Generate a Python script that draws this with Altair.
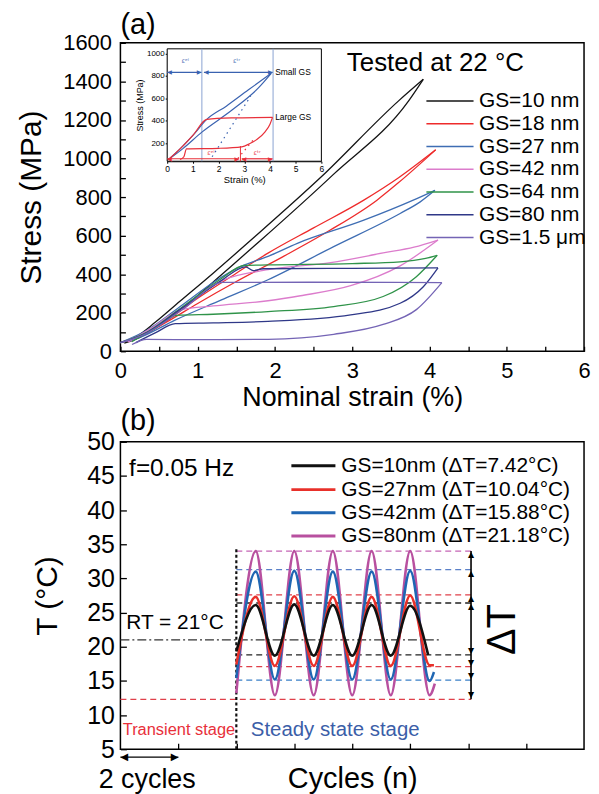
import altair as alt
import pandas as pd

FONT = "Liberation Sans"

# ================= Panel (a): stress-strain loops =================
gs_names = ["GS=10 nm", "GS=18 nm", "GS=27 nm", "GS=42 nm", "GS=64 nm", "GS=80 nm", "GS=1.5 \u03bcm"]
gs_colors = ["#141414", "#ee2b2b", "#3e6db3", "#dc7ccc", "#2f9349", "#2f3888", "#7464b5"]

gs10_load_strain = [0, 0.2, 0.45, 0.77, 1.2, 1.69, 2.6, 3.6, 3.92]
gs10_load_stress = [45, 75, 150, 259, 405, 577, 905, 1299, 1411]
gs10_unload_strain = [3.92, 3.73, 2.75, 1.82, 1.33, 0.9, 0.55, 0.25, 0.05]
gs10_unload_stress = [1411, 1299, 915, 577, 405, 255, 145, 72, 42]

gs18_load_strain = [0, 0.2, 0.47, 1.0, 1.5, 1.91, 2.5, 3.15, 3.6, 4.08]
gs18_load_stress = [45, 70, 125, 275, 405, 509, 640, 784, 900, 1045]
gs18_unload_strain = [4.08, 3.6, 3.32, 2.7, 2.1, 1.5, 1.0, 0.6, 0.3, 0.1]
gs18_unload_stress = [1045, 875, 784, 625, 490, 362, 248, 152, 85, 50]

gs27_load_strain = [0, 0.36, 0.8, 1.22, 1.56, 1.91, 2.29, 3.15, 3.79, 4.07]
gs27_load_stress = [45, 113, 240, 362, 440, 492, 560, 680, 784, 835]
gs27_unload_strain = [4.07, 3.88, 3.62, 2.76, 1.91, 1.3, 0.7, 0.3, 0.1]
gs27_unload_stress = [835, 775, 715, 543, 371, 265, 160, 80, 50]

gs42_load_strain = [0, 0.3, 0.8, 1.31, 1.91, 2.72, 3.4, 3.8, 4.11]
gs42_load_stress = [45, 90, 225, 365, 423, 460, 510, 540, 577]
gs42_unload_strain = [4.11, 3.62, 2.98, 2.33, 1.91, 1.2, 0.79, 0.4, 0.1]
gs42_unload_stress = [577, 443, 340, 288, 262, 235, 216, 120, 48]

gs64_load_strain = [0, 0.3, 0.8, 1.3, 1.6, 1.91, 3.0, 3.62, 3.95, 4.1]
gs64_load_stress = [45, 90, 230, 375, 445, 448, 455, 464, 482, 498]
gs64_unload_strain = [4.1, 3.83, 3.4, 2.76, 1.91, 1.2, 0.73, 0.45, 0.15]
gs64_unload_stress = [498, 387, 284, 232, 206, 192, 186, 120, 50]

gs80_load_strain = [0, 0.3, 0.8, 1.3, 1.62, 1.72, 1.85, 3.0, 4.11]
gs80_load_stress = [45, 88, 225, 365, 438, 418, 428, 430, 433]
gs80_unload_strain = [4.11, 3.92, 3.62, 2.98, 1.91, 1.2, 0.71, 0.45, 0.2]
gs80_unload_stress = [433, 335, 249, 189, 155, 147, 143, 95, 45]

gs1500_load_strain = [0, 0.3, 0.8, 1.33, 2.5, 4.16]
gs1500_load_stress = [45, 85, 215, 357, 358, 356]
gs1500_unload_strain = [4.16, 3.83, 3.4, 2.76, 1.91, 1.0, 0.34, 0.15]
gs1500_unload_stress = [356, 216, 139, 88, 62, 60, 62, 35]

loops = {
    gs_names[0]: (gs10_load_strain, gs10_load_stress, gs10_unload_strain, gs10_unload_stress),
    gs_names[1]: (gs18_load_strain, gs18_load_stress, gs18_unload_strain, gs18_unload_stress),
    gs_names[2]: (gs27_load_strain, gs27_load_stress, gs27_unload_strain, gs27_unload_stress),
    gs_names[3]: (gs42_load_strain, gs42_load_stress, gs42_unload_strain, gs42_unload_stress),
    gs_names[4]: (gs64_load_strain, gs64_load_stress, gs64_unload_strain, gs64_unload_stress),
    gs_names[5]: (gs80_load_strain, gs80_load_stress, gs80_unload_strain, gs80_unload_stress),
    gs_names[6]: (gs1500_load_strain, gs1500_load_stress, gs1500_unload_strain, gs1500_unload_stress),
}

legend_a_stress = [1298, 1180, 1062, 944, 826, 708, 590]
legend_a_line_x = [3.96, 4.57]
legend_a_label_x = 4.64

tested_text = ["Tested at 22 \u00b0C"]
tested_pos = [2.93, 1495]
panel_a_label = ["(a)"]
panel_a_pos = [0, 1690]

# ---- inset ----
inset_x_domain = [0, 6]
inset_y_domain = [40, 1040]
inset_small_load_strain = [0.05, 0.5, 1.0, 1.54, 2.3, 3.15, 4.05]
inset_small_load_stress = [55, 150, 270, 412, 530, 673, 822]
inset_small_unload_strain = [4.05, 3.54, 2.51, 1.35, 0.6, 0.05]
inset_small_unload_stress = [822, 690, 493, 299, 150, 55]
inset_large_load_strain = [0.05, 0.5, 1.0, 1.54, 2.5, 4.1]
inset_large_load_stress = [55, 150, 270, 412, 425, 430]
inset_large_unload_strain = [4.1, 4.0, 3.8, 3.5, 3.2, 2.9, 2.0, 0.75, 0.65, 0.5]
inset_large_unload_stress = [430, 370, 300, 235, 195, 168, 155, 150, 80, 55]
inset_vlines_blue = [1.35, 4.12]
inset_vline_red = [2.85]
inset_vline_red_top = 175
inset_arrow_blue_y = 830
inset_arrow_blue_segs = [(0, 1.33), (1.43, 4.1)]
inset_arrow_red_y = 62
inset_arrow_red_segs = [(0, 2.8), (2.9, 4.1)]
inset_dot_blue = [(1.75, 80), (3.25, 620)]
inset_dot_red = [(2.75, 65), (3.35, 230)]
inset_labels = ["Small GS", "Large GS"]
inset_label_pos = [(4.2, 830), (4.2, 430)]
inset_eps_blue = ["\u03b5\u1d49\u02e1", "\u03b5\u1d57\u02b3"]
inset_eps_blue_pos = [(0.7, 930), (2.7, 930)]
inset_eps_red = ["\u03b5\u1d49\u02e1", "\u03b5\u1d57\u02b3"]
inset_eps_red_pos = [(1.7, 115), (3.5, 115)]
inset_blue = "#3a62b0"
inset_red = "#e8303a"

# ================= Panel (b): temperature vs cycles =================
wave_names = ["GS=10nm (\u0394T=7.42\u00b0C)", "GS=27nm (\u0394T=10.04\u00b0C)",
              "GS=42nm (\u0394T=15.88\u00b0C)", "GS=80nm (\u0394T=21.18\u00b0C)"]
wave_colors = ["#111111", "#e8302a", "#1f66b3", "#b8509f"]
bk_n = [4.0, 4.67, 5.33, 6.0, 6.67, 7.33, 8.0, 8.67, 9.33, 10.0, 10.62]
bk_T = [19.3, 26.1, 18.7, 26.2, 18.7, 26.1, 18.7, 26.1, 18.7, 26.0, 18.8]
rd_n = [4.0, 4.67, 5.33, 6.0, 6.67, 7.33, 8.0, 8.67, 9.33, 10.0, 10.67, 10.82]
rd_T = [17.4, 27.3, 17.2, 27.4, 17.2, 27.3, 17.2, 27.3, 17.2, 27.5, 17.3, 17.3]
bl_n = [4.0, 4.67, 5.33, 6.0, 6.67, 7.33, 8.0, 8.67, 9.33, 10.0, 10.67, 10.82]
bl_T = [15.4, 31.0, 15.2, 31.1, 15.2, 31.0, 15.2, 31.0, 15.2, 31.1, 15.0, 16.3]
mg_n = [4.0, 4.67, 5.33, 6.0, 6.67, 7.33, 8.0, 8.67, 9.33, 10.0, 10.67, 10.85]
mg_T = [13.2, 34.0, 12.9, 34.0, 12.9, 34.0, 12.9, 34.0, 12.9, 34.0, 12.9, 14.6]

dash_T = [34.0, 31.3, 27.6, 26.4, 18.8, 17.1, 15.1, 12.3]
dash_colors = ["#c565b5", "#5a80c8", "#e0404a", "#222222", "#222222", "#e0404a", "#3a80c8", "#e0404a"]
dash_start = [4, 4, 4, 4, 4, 4, 4, 0]
dash_end = 12.1
arrow_up_T = [34.0, 31.3, 27.6, 26.4]
arrow_down_T = [18.8, 17.1, 15.1, 12.3]
steady_start = 4
steady_line_T = [5, 34.6]
rt_T = 21.0
rt_span = [0, 11.0]

legend_b_T = [46.5, 43.0, 39.6, 36.2]
legend_b_line_x = [5.9, 7.42]
legend_b_label_x = 7.62

panel_b_label = ["(b)"]
panel_b_pos = [0, 53.1]

# ================= helpers =================
ax_xa = alt.Axis(values=[i * 0.5 for i in range(13)],
                 labelExpr="datum.value % 1 == 0 ? format(datum.value, 'd') : ''",
                 title="Nominal strain (%)", labelFontSize=22, titleFontSize=27,
                 offset=-5, tickSize=5, domain=False, labelPadding=9, titlePadding=4,
                 labelFlush=False, labelOverlap=False, tickWidth=1.3)
ax_ya = alt.Axis(values=list(range(0, 1601, 100)),
                 labelExpr="datum.value % 200 == 0 ? format(datum.value, 'd') : ''",
                 title="Stress (MPa)", labelFontSize=22, titleFontSize=30,
                 offset=-5, tickSize=5, domain=False, labelPadding=9, titlePadding=16,
                 labelFlush=False, labelOverlap=False, tickWidth=1.3)


def xa(f):
    return alt.X(f"{f}:Q", scale=alt.Scale(domain=[0, 6], nice=False), axis=ax_xa)


def ya(f):
    return alt.Y(f"{f}:Q", scale=alt.Scale(domain=[0, 1600], nice=False), axis=ax_ya)


ax_xi = alt.Axis(values=list(range(0, 7)), format="d", title="Strain (%)", orient="bottom",
                 offset=-191, labelFontSize=8.5, titleFontSize=9.5, tickSize=2,
                 labelPadding=1, titlePadding=2, labelFlush=False, labelOverlap=False,
                 domainWidth=1, tickWidth=1)
ax_yi = alt.Axis(values=[200, 400, 600, 800, 1000], format="d", title="Stress (MPa)",
                 orient="left", offset=-47, labelFontSize=8, titleFontSize=9, tickSize=2,
                 labelPadding=1, titlePadding=2, labelFlush=False, labelOverlap=False,
                 domainWidth=1, tickWidth=1)


def xi(f):
    return alt.X(f"{f}:Q", scale=alt.Scale(domain=inset_x_domain, range=[47, 202], nice=False), axis=ax_xi)


def yi(f):
    return alt.Y(f"{f}:Q", scale=alt.Scale(domain=inset_y_domain, range=[119, 6], nice=False), axis=ax_yi)


ax_xb = alt.Axis(values=list(range(2, 16, 2)), labels=False, title="Cycles (n)",
                 titleFontSize=29, offset=-6, tickSize=6, domain=False, titlePadding=15,
                 tickWidth=1.3)
ax_yb = alt.Axis(values=list(range(5, 51, 5)), format="d", title="T (\u00b0C)",
                 labelFontSize=25, titleFontSize=30, offset=-6, tickSize=6, domain=False,
                 labelPadding=6, titlePadding=24, labelFlush=False, labelOverlap=False,
                 tickWidth=1.3)


def xb(f):
    return alt.X(f"{f}:Q", scale=alt.Scale(domain=[0, 16], nice=False), axis=ax_xb)


def yb(f):
    return alt.Y(f"{f}:Q", scale=alt.Scale(domain=[5, 50], nice=False), axis=ax_yb)


# ================= Panel (a) layers =================
rows = []
for name in gs_names:
    ls, lt, us, ut = loops[name]
    for s, t in zip(ls, lt):
        rows.append({"series": name, "branch": name + " load", "strain": s, "stress": t})
    for s, t in zip(us, ut):
        rows.append({"series": name, "branch": name + " unload", "strain": s, "stress": t})
df_loops = pd.DataFrame(rows)

color_a = alt.Color("series:N", scale=alt.Scale(domain=gs_names, range=gs_colors), legend=None)

loops_layer = alt.Chart(df_loops).mark_line(interpolate="monotone", strokeWidth=1.3).encode(
    x=xa("strain"), y=ya("stress"), color=color_a, detail="branch:N")

df_leg_a = pd.DataFrame({"series": gs_names, "y": legend_a_stress,
                         "x0": [legend_a_line_x[0]] * 7, "x1": [legend_a_line_x[1]] * 7,
                         "xl": [legend_a_label_x] * 7})
leg_a_lines = alt.Chart(df_leg_a).mark_rule(strokeWidth=1.6).encode(
    x=xa("x0"), x2="x1:Q", y=ya("y"), color=color_a)
leg_a_text = alt.Chart(df_leg_a).mark_text(font=FONT, fontSize=21, align="left", baseline="middle").encode(
    x=xa("xl"), y=ya("y"), text="series:N")

df_tested = pd.DataFrame({"x": [tested_pos[0]], "y": [tested_pos[1]], "t": tested_text})
tested_layer = alt.Chart(df_tested).mark_text(font=FONT, fontSize=26, align="left", baseline="middle").encode(
    x=xa("x"), y=ya("y"), text="t:N")

df_pa = pd.DataFrame({"x": [panel_a_pos[0]], "y": [panel_a_pos[1]], "t": panel_a_label})
pa_layer = alt.Chart(df_pa).mark_text(font=FONT, fontSize=29, align="left", baseline="middle").encode(
    x=xa("x"), y=ya("y"), text="t:N")

main_a = alt.layer(loops_layer, leg_a_lines, leg_a_text, tested_layer, pa_layer)

# ---- inset layers ----
df_box = pd.DataFrame({"x0": [inset_x_domain[0]], "x1": [inset_x_domain[1]],
                       "y0": [inset_y_domain[0]], "y1": [inset_y_domain[1]]})
inset_box = alt.Chart(df_box).mark_rect(fill="white", stroke="black", strokeWidth=1).encode(
    x=xi("x0"), x2="x1:Q", y=yi("y0"), y2="y1:Q")

df_iv = pd.DataFrame({"x": inset_vlines_blue, "y0": [inset_y_domain[0]] * 2, "y1": [inset_y_domain[1]] * 2})
inset_vb = alt.Chart(df_iv).mark_rule(color="#8aa2d2", strokeWidth=1).encode(x=xi("x"), y=yi("y0"), y2="y1:Q")
df_ivr = pd.DataFrame({"x": inset_vline_red, "y0": [inset_y_domain[0]], "y1": [inset_vline_red_top]})
inset_vr = alt.Chart(df_ivr).mark_rule(color=inset_red, strokeWidth=1).encode(x=xi("x"), y=yi("y0"), y2="y1:Q")

irows = []
for col, br, xs, ys in [(inset_blue, "s1", inset_small_load_strain, inset_small_load_stress),
                        (inset_blue, "s2", inset_small_unload_strain, inset_small_unload_stress),
                        (inset_red, "l1", inset_large_load_strain, inset_large_load_stress),
                        (inset_red, "l2", inset_large_unload_strain, inset_large_unload_stress)]:
    for s, t in zip(xs, ys):
        irows.append({"c": col, "branch": br, "strain": s, "stress": t})
df_iloops = pd.DataFrame(irows)
color_i = alt.Color("c:N", scale=None)
inset_loops = alt.Chart(df_iloops).mark_line(interpolate="monotone", strokeWidth=1.2).encode(
    x=xi("strain"), y=yi("stress"), color=color_i, detail="branch:N")

df_idot = pd.DataFrame({"c": [inset_blue, inset_blue, inset_red, inset_red],
                        "strain": [p[0] for p in inset_dot_blue] + [p[0] for p in inset_dot_red],
                        "stress": [p[1] for p in inset_dot_blue] + [p[1] for p in inset_dot_red]})
inset_dots = alt.Chart(df_idot).mark_line(strokeDash=[1.5, 4], strokeWidth=1.2).encode(
    x=xi("strain"), y=yi("stress"), color=color_i, detail="c:N")

arows = []
for a, b in inset_arrow_blue_segs:
    arows.append({"c": inset_blue, "x0": a, "x1": b, "y": inset_arrow_blue_y})
for a, b in inset_arrow_red_segs:
    arows.append({"c": inset_red, "x0": a, "x1": b, "y": inset_arrow_red_y})
df_iarr = pd.DataFrame(arows)
inset_arr = alt.Chart(df_iarr).mark_rule(strokeWidth=1.2).encode(
    x=xi("x0"), x2="x1:Q", y=yi("y"), color=color_i)
inset_head_r = alt.Chart(df_iarr).mark_text(font="DejaVu Sans", fontSize=6, align="right", baseline="middle", text="\u25b6").encode(
    x=xi("x1"), y=yi("y"), color=color_i)
inset_head_l = alt.Chart(df_iarr).mark_text(font="DejaVu Sans", fontSize=6, align="left", baseline="middle", text="\u25c0").encode(
    x=xi("x0"), y=yi("y"), color=color_i)

df_ilab = pd.DataFrame({"t": inset_labels, "x": [p[0] for p in inset_label_pos], "y": [p[1] for p in inset_label_pos]})
inset_lab = alt.Chart(df_ilab).mark_text(font=FONT, fontSize=8.5, align="left", baseline="middle").encode(
    x=xi("x"), y=yi("y"), text="t:N")
df_ieps = pd.DataFrame({"t": inset_eps_blue + inset_eps_red,
                        "c": [inset_blue] * 2 + [inset_red] * 2,
                        "x": [p[0] for p in inset_eps_blue_pos + inset_eps_red_pos],
                        "y": [p[1] for p in inset_eps_blue_pos + inset_eps_red_pos]})
inset_eps = alt.Chart(df_ieps).mark_text(font="DejaVu Sans", fontSize=6.5, align="center", baseline="middle").encode(
    x=xi("x"), y=yi("y"), text="t:N", color=color_i)

inset = alt.layer(inset_box, inset_vb, inset_vr, inset_loops, inset_dots, inset_arr,
                  inset_head_r, inset_head_l, inset_lab, inset_eps)

top = alt.layer(main_a, inset).resolve_scale(x="independent", y="independent").properties(
    width=466, height=310)

# ================= Panel (b) layers =================
df_dash = pd.DataFrame({"y": dash_T, "c": dash_colors, "x0": dash_start, "x1": [dash_end] * len(dash_T)})
dash_layer = alt.Chart(df_dash).mark_rule(strokeDash=[6, 4], strokeWidth=1.3).encode(
    x=xb("x0"), x2="x1:Q", y=yb("y"), color=alt.Color("c:N", scale=None))

df_steady = pd.DataFrame({"x": [steady_start], "y0": [steady_line_T[0]], "y1": [steady_line_T[1]]})
steady_layer = alt.Chart(df_steady).mark_rule(strokeDash=[3, 2.5], strokeWidth=2.2, color="#111111").encode(
    x=xb("x"), y=yb("y0"), y2="y1:Q")

df_rt = pd.DataFrame({"x0": [rt_span[0]], "x1": [rt_span[1]], "y": [rt_T]})
rt_layer = alt.Chart(df_rt).mark_rule(strokeDash=[9, 3, 2, 3], strokeWidth=1.2, color="#333333").encode(
    x=xb("x0"), x2="x1:Q", y=yb("y"))

wave_layers = []
for nm, col, ns, ts in [(wave_names[3], wave_colors[3], mg_n, mg_T),
                        (wave_names[2], wave_colors[2], bl_n, bl_T),
                        (wave_names[1], wave_colors[1], rd_n, rd_T),
                        (wave_names[0], wave_colors[0], bk_n, bk_T)]:
    dfw = pd.DataFrame({"n": ns, "T": ts})
    wave_layers.append(alt.Chart(dfw).mark_line(interpolate="monotone", strokeWidth=2.6, color=col).encode(
        x=xb("n"), y=yb("T")))

df_col = pd.DataFrame({"x": [dash_end], "y0": [min(arrow_down_T)], "y1": [max(arrow_up_T)]})
col_layer = alt.Chart(df_col).mark_rule(strokeWidth=1.6, color="black").encode(x=xb("x"), y=yb("y0"), y2="y1:Q")
df_up = pd.DataFrame({"x": [dash_end] * 4, "y": arrow_up_T})
df_dn = pd.DataFrame({"x": [dash_end] * 4, "y": arrow_down_T})
up_layer = alt.Chart(df_up).mark_text(font="DejaVu Sans", fontSize=8, baseline="top", text="\u25b2", color="black").encode(
    x=xb("x"), y=yb("y"))
dn_layer = alt.Chart(df_dn).mark_text(font="DejaVu Sans", fontSize=8, baseline="bottom", text="\u25bc", color="black").encode(
    x=xb("x"), y=yb("y"))

df_leg_b = pd.DataFrame({"name": wave_names, "c": wave_colors, "y": legend_b_T,
                         "x0": [legend_b_line_x[0]] * 4, "x1": [legend_b_line_x[1]] * 4,
                         "xl": [legend_b_label_x] * 4})
leg_b_lines = alt.Chart(df_leg_b).mark_rule(strokeWidth=3).encode(
    x=xb("x0"), x2="x1:Q", y=yb("y"), color=alt.Color("c:N", scale=None))
leg_b_text = alt.Chart(df_leg_b).mark_text(font=FONT, fontSize=21, align="left", baseline="middle").encode(
    x=xb("xl"), y=yb("y"), text="name:N")

texts_b = [
    ("f=0.05 Hz", 0.3, 46.0, 24.5, "black"),
    ("RT = 21\u00b0C", 0.2, 23.4, 21, "black"),
    ("Transient stage", 0.08, 7.8, 16.5, "#e8303a"),
    ("Steady state stage", 4.5, 7.8, 20.5, "#3b5ea8"),
    ("2 cycles", -0.75, 0.5, 27, "black"),
    (panel_b_label[0], panel_b_pos[0], panel_b_pos[1], 29, "black"),
]
text_layers_b = []
for t, x, y, fs, c in texts_b:
    d = pd.DataFrame({"x": [x], "y": [y], "t": [t]})
    text_layers_b.append(alt.Chart(d).mark_text(font=FONT, fontSize=fs, align="left", baseline="middle", color=c).encode(
        x=xb("x"), y=yb("y"), text="t:N"))
df_dt = pd.DataFrame({"x": [13.2], "y": [22.5], "t": ["\u0394T"]})
dt_layer = alt.Chart(df_dt).mark_text(font=FONT, fontSize=40, align="center", baseline="middle", angle=270, color="black").encode(
    x=xb("x"), y=yb("y"), text="t:N")

two_cyc = [0, 2]
two_cyc_T = 3.85
df_2c = pd.DataFrame({"x0": [two_cyc[0]], "x1": [two_cyc[1]], "y": [two_cyc_T]})
c2_rule = alt.Chart(df_2c).mark_rule(strokeWidth=1.4, color="black").encode(x=xb("x0"), x2="x1:Q", y=yb("y"))
c2_l = alt.Chart(df_2c).mark_text(font="DejaVu Sans", fontSize=10, align="left", baseline="middle", text="\u25c0", color="black").encode(
    x=xb("x0"), y=yb("y"))
c2_r = alt.Chart(df_2c).mark_text(font="DejaVu Sans", fontSize=10, align="right", baseline="middle", text="\u25b6", color="black").encode(
    x=xb("x1"), y=yb("y"))

bottom = alt.layer(dash_layer, steady_layer, rt_layer, *wave_layers, col_layer, up_layer, dn_layer,
                   leg_b_lines, leg_b_text, *text_layers_b, dt_layer, c2_rule, c2_l, c2_r).properties(
    width=466, height=309)

chart = alt.vconcat(top, bottom, spacing=91, bounds="flush").properties(
    padding={"left": 8, "top": 0, "right": 0, "bottom": 0})

chart = chart.configure_view(stroke="black", strokeWidth=1.5).configure_axis(
    grid=False, domainColor="black", tickColor="black", labelColor="black", titleColor="black",
    labelFont=FONT, titleFont=FONT, titleFontWeight="normal")

chart.save("out.html", embed_options={"renderer": "svg", "actions": False})
